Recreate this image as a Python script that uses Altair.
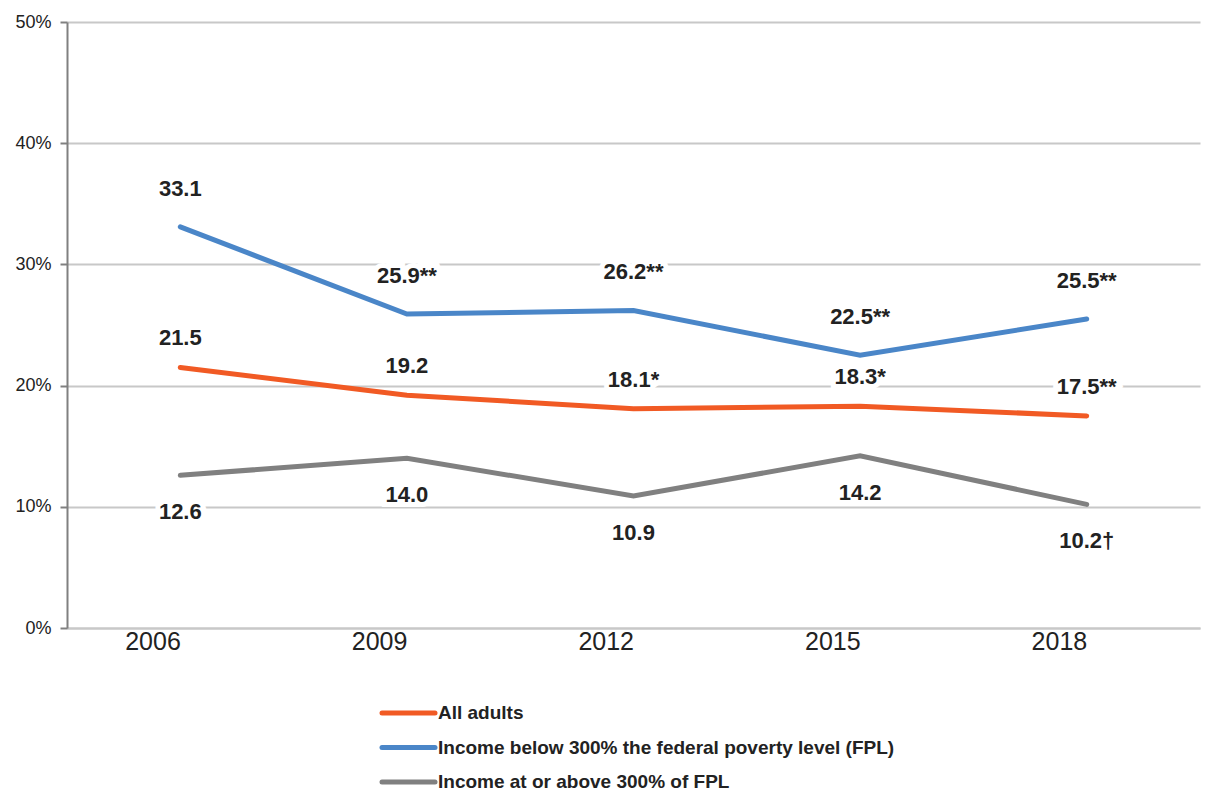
import altair as alt
import pandas as pd

years = ["2006", "2009", "2012", "2015", "2018"]
series = [
    "All adults",
    "Income below 300% the federal poverty level (FPL)",
    "Income at or above 300% of FPL",
]
all_adults = [21.5, 19.2, 18.1, 18.3, 17.5]
below_300 = [33.1, 25.9, 26.2, 22.5, 25.5]
above_300 = [12.6, 14.0, 10.9, 14.2, 10.2]

all_adults_labels = ["21.5", "19.2", "18.1*", "18.3*", "17.5**"]
below_300_labels = ["33.1", "25.9**", "26.2**", "22.5**", "25.5**"]
above_300_labels = ["12.6", "14.0", "10.9", "14.2", "10.2†"]

colors = ["#F15A24", "#4A86C8", "#808080"]
label_offsets = [-29, -38, 37]

rows = []
for name, vals, labs, off in zip(
    series,
    [all_adults, below_300, above_300],
    [all_adults_labels, below_300_labels, above_300_labels],
    label_offsets,
):
    for y, v, lab in zip(years, vals, labs):
        rows.append({"year": y, "series": name, "value": v / 100, "label": lab, "offset": off})
df = pd.DataFrame(rows)
legend_df = pd.DataFrame({"series": series})

FONT = "'Liberation Sans Narrow', 'Arial Narrow', 'Liberation Sans', Arial, sans-serif"

color_scale = alt.Scale(domain=series, range=colors)

x_enc = alt.X(
    "year:N",
    sort=years,
    scale=alt.Scale(type="point", padding=0.5),
    axis=alt.Axis(
        title=None, labelAngle=0, labelFontSize=25, labelFont=FONT, labelColor="#222222",
        ticks=False, domain=True, domainColor="#c8c8c8", domainWidth=2, labelPadding=13,
    ),
)
y_enc = alt.Y(
    "value:Q",
    scale=alt.Scale(domain=[0, 0.5], nice=False),
    axis=alt.Axis(
        title=None, format=".0%", values=[0, 0.1, 0.2, 0.3, 0.4, 0.5],
        labelFontSize=18, labelFont=FONT, labelColor="#222222",
        grid=True, gridColor="#c8c8c8", gridWidth=2,
        domain=True, domainColor="#808080", domainWidth=2,
        ticks=True, tickSize=7, tickColor="#808080", tickWidth=2, labelPadding=9,
    ),
)

lines = alt.Chart(df).mark_line(strokeWidth=5, strokeCap="round").encode(
    x=x_enc, y=y_enc,
    color=alt.Color("series:N", scale=color_scale, legend=None),
    detail="series:N",
)

def label_layer(off, halo):
    props = dict(font=FONT, fontSize=22, fontWeight="bold", dy=off, align="center", baseline="middle")
    if halo:
        props.update(color="white", stroke="white", strokeWidth=10)
    else:
        props.update(color="#222222")
    return (
        alt.Chart(df)
        .transform_filter(alt.datum.offset == off)
        .mark_text(**props)
        .encode(x=alt.X("year:N", sort=years), y="value:Q", text="label:N")
    )

halos = [label_layer(o, True) for o in label_offsets]
texts = [label_layer(o, False) for o in label_offsets]

plot = alt.layer(*halos, lines, *texts)

# Legend below the plot: one row per series, a short coloured stroke and a bold label
legend_y = alt.Y(
    "series:N", sort=series,
    scale=alt.Scale(type="point", domain=series, range=[691, 760], padding=0),
    axis=None,
)
legend_rules = alt.Chart(legend_df).mark_rule(strokeWidth=5, strokeCap="round").encode(
    x=alt.value(315), x2=alt.value(368), y=legend_y,
    color=alt.Color("series:N", scale=color_scale, legend=None),
)
legend_text = alt.Chart(legend_df).mark_text(
    align="left", baseline="middle", font=FONT, fontSize=19, fontWeight="bold", color="#222222"
).encode(x=alt.value(371), y=legend_y, text="series:N")
legend = alt.layer(legend_rules, legend_text)

chart = (
    alt.layer(plot, legend)
    .resolve_scale(y="independent")
    .properties(
        width=1133, height=606,
        padding={"left": 67, "top": 22, "right": 12, "bottom": 167},
        autosize=alt.AutoSizeParams(type="none"),
        background="white",
    )
    .configure_view(stroke=None)
)

chart.save("out.html", embed_options={"renderer": "svg", "actions": False})
